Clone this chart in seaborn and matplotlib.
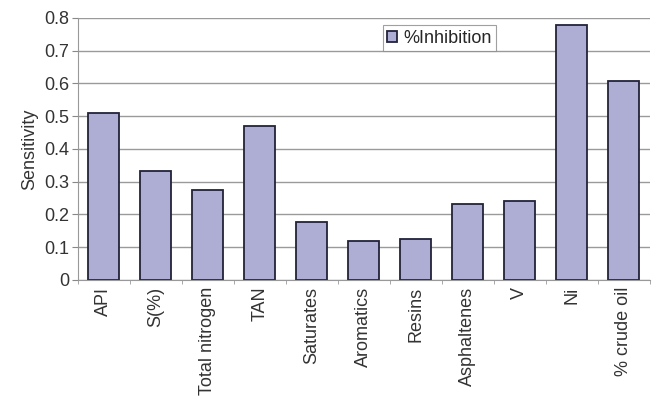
import pandas as pd
import seaborn as sns
import matplotlib.pyplot as plt

# Valeurs
categories = ['API', 'S(%)', 'Total nitrogen', 'TAN', 'Saturates', 'Aromatics',
              'Resins', 'Asphaltenes', 'V', 'Ni', '% crude oil']
inhibition = [0.51, 0.333, 0.275, 0.47, 0.177, 0.119, 0.125, 0.232, 0.241, 0.779, 0.608]
y_ticks = [0, 0.1, 0.2, 0.3, 0.4, 0.5, 0.6, 0.7, 0.8]
y_tick_labels = ['0', '0.1', '0.2', '0.3', '0.4', '0.5', '0.6', '0.7', '0.8']

data = pd.DataFrame({'param': categories, 'val': inhibition, 'serie': '%Inhibition'})

sns.set_style("white")
plt.rcParams['font.family'] = ['Liberation Sans', 'DejaVu Sans']

fig = plt.figure(figsize=(6.53, 4.08), dpi=100)
ax = fig.add_axes([0.119, 0.314, 0.876, 0.642])

sns.barplot(data=data, x='param', y='val', hue='serie', palette=['#a8a8da'],
            edgecolor='#22223a', linewidth=1.3, width=0.6, ax=ax)

ax.set_ylim(0, 0.8)
ax.set_yticks(y_ticks)
ax.set_yticklabels(y_tick_labels, fontsize=13, color='#333333')
ax.yaxis.grid(True, color='#9a9a9a', linewidth=1)
ax.set_axisbelow(True)
ax.set_xlim(-0.5, len(categories) - 0.5)
ax.set_xticks([i + 0.5 for i in range(-1, len(categories))], minor=True)
ax.tick_params(axis='x', which='major', labelrotation=90, labelsize=13, length=0,
               labelcolor='#333333', pad=5)
ax.tick_params(axis='x', which='minor', length=3, color='#999999', bottom=True)
ax.tick_params(axis='y', length=4, color='#888888', left=True, pad=2)
ax.set_xlabel('')
ax.set_ylabel('Sensitivity', fontsize=13, color='#333333', labelpad=4)

for side in ['top', 'right']:
    ax.spines[side].set_visible(False)
for side in ['left', 'bottom']:
    ax.spines[side].set_color('#999999')

leg = ax.legend(loc='upper left', bbox_to_anchor=(0.533, 0.972), fontsize=13,
                frameon=True, fancybox=False, handlelength=0.55, handleheight=0.55,
                handletextpad=0.35, borderpad=0.25, borderaxespad=0)
leg.get_frame().set_edgecolor('#888888')
leg.get_frame().set_linewidth(0.8)

plt.savefig('out.png', dpi=100)
